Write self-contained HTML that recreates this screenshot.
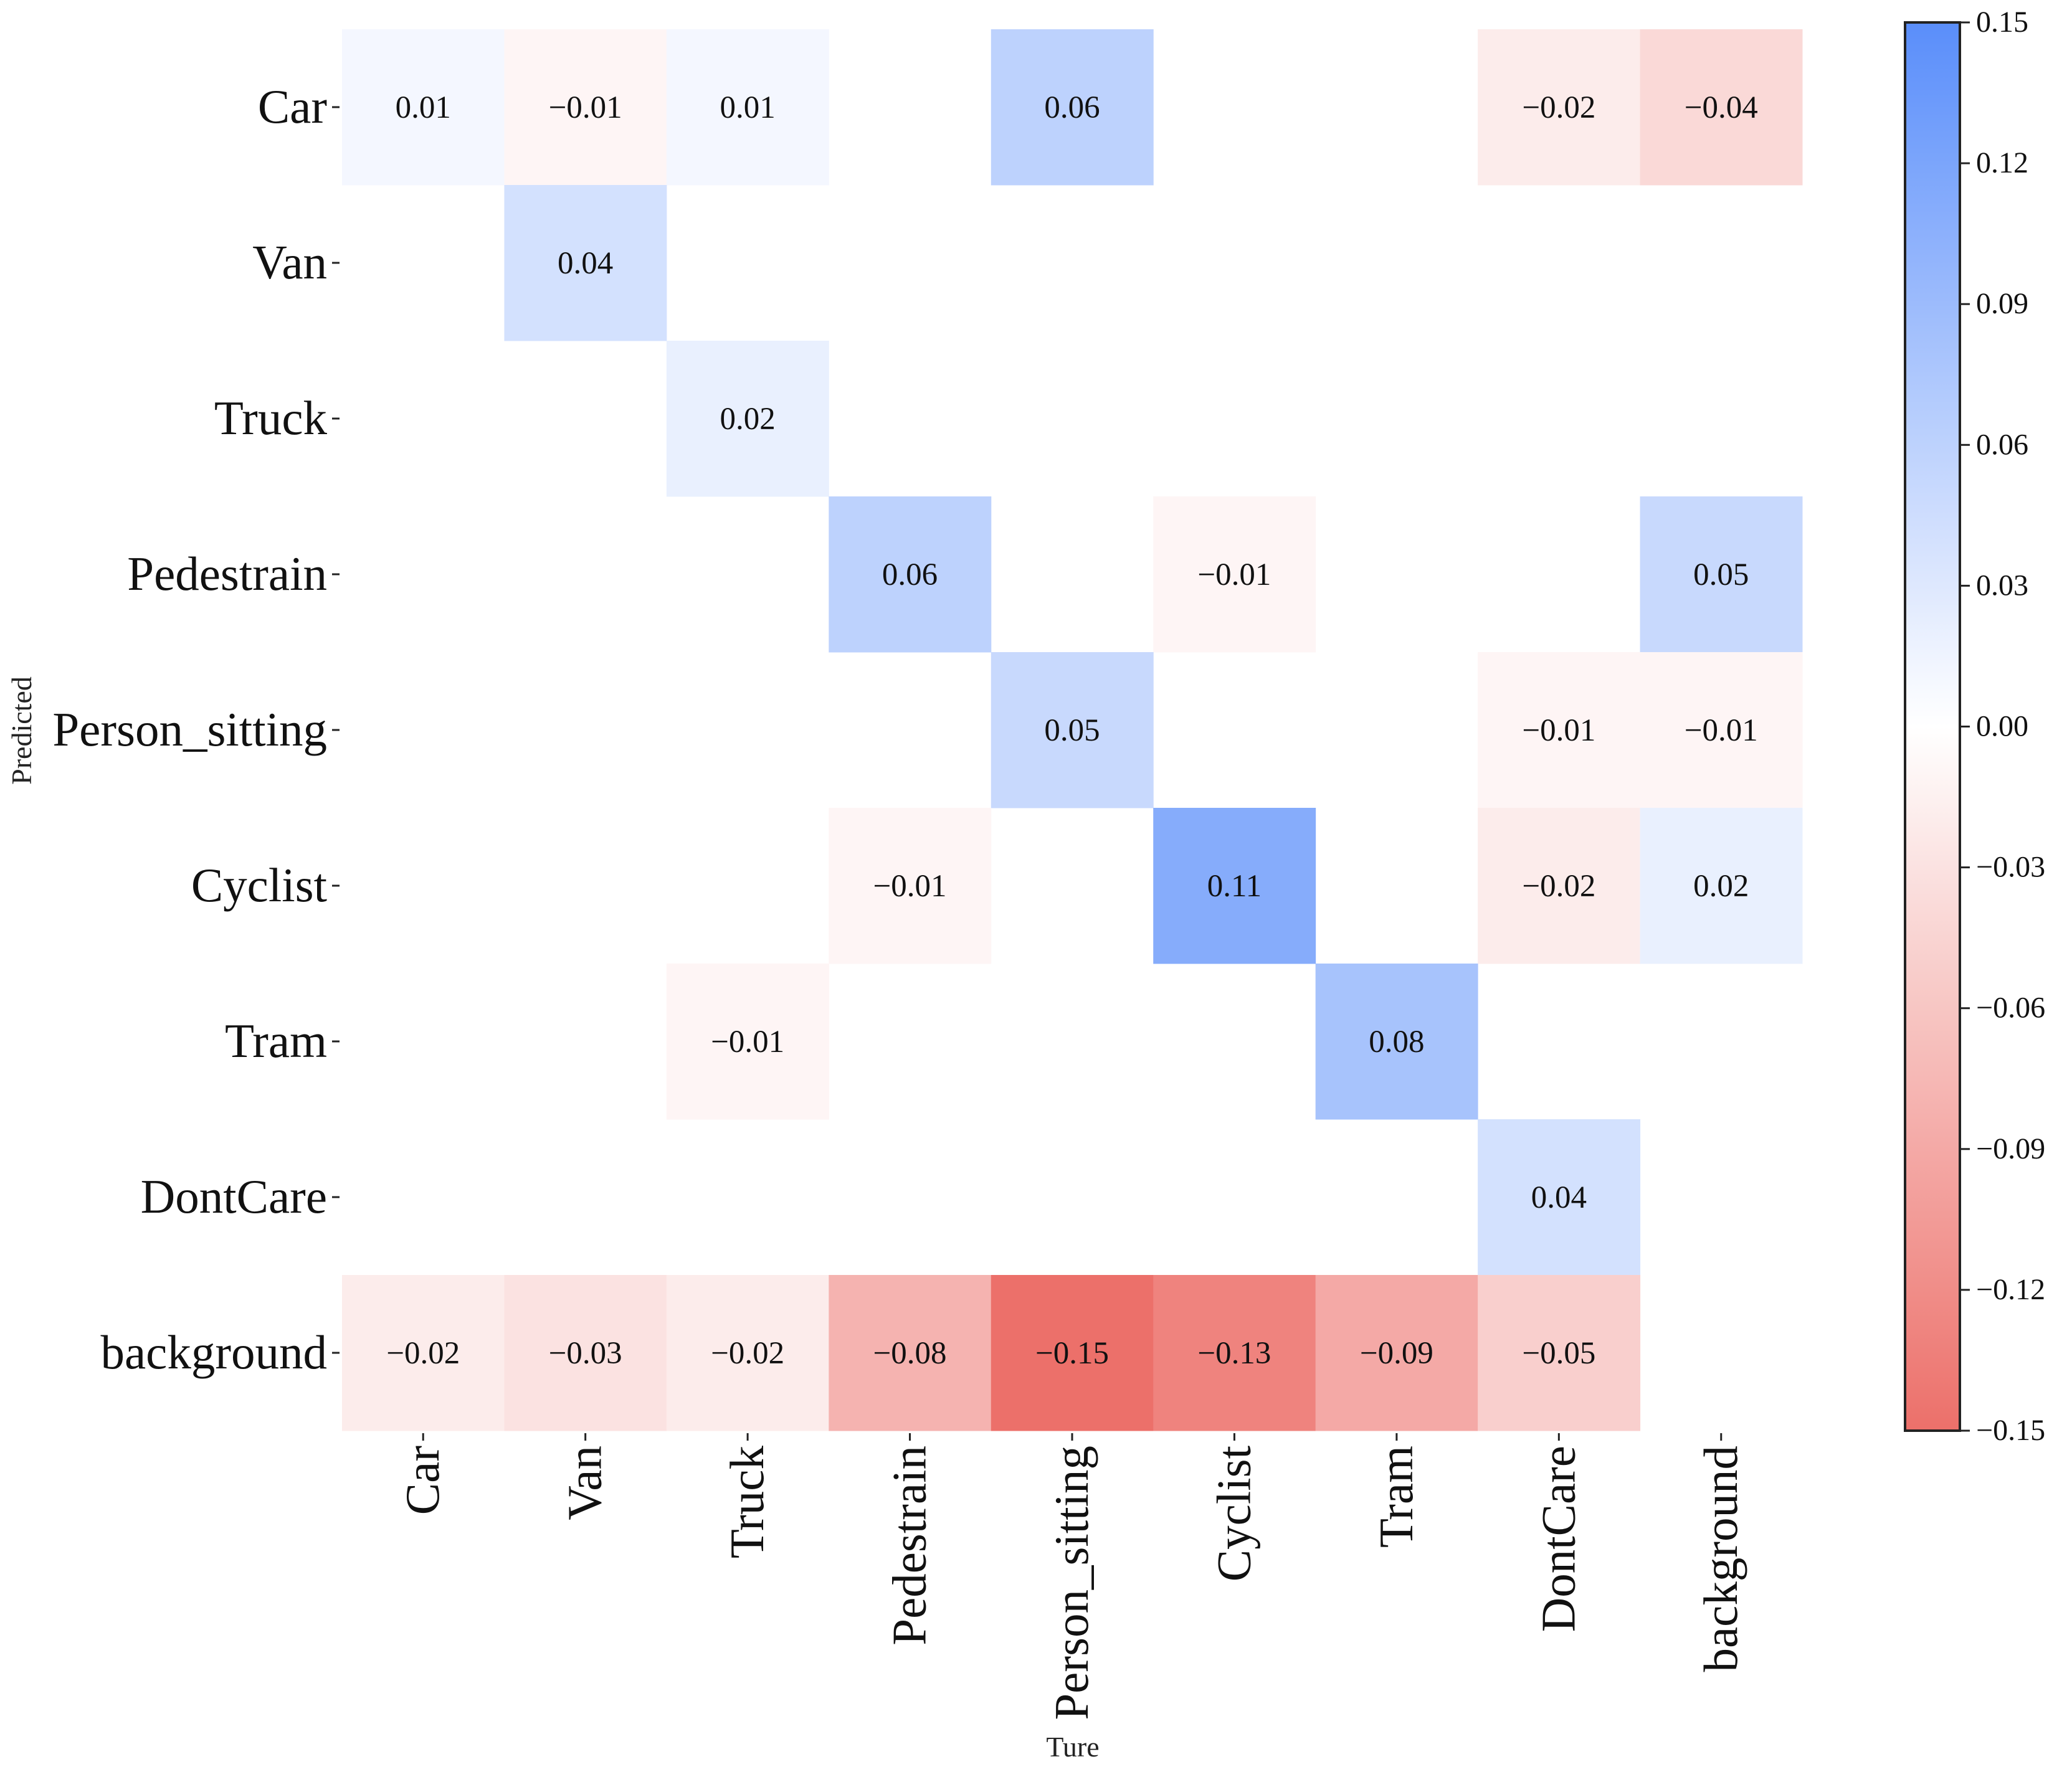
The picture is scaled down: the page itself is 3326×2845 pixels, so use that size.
<!DOCTYPE html>
<html><head><meta charset="utf-8"><style>body{margin:0;background:#fff}svg{display:block;font-family:"Liberation Serif",serif}</style></head>
<body>
<svg id="chart" width="3326" height="2845" viewBox="0 0 3326 2845" xmlns="http://www.w3.org/2000/svg">
<g id="cells"></g>
<g id="yax"></g>
<g id="xax"></g>
<g id="cbar"></g>
<text x="50" y="1173" font-size="46" text-anchor="middle" transform="rotate(-90 50 1173)" fill="#222">Predicted</text>
<text x="1722" y="2820" font-size="46" text-anchor="middle" fill="#222">Ture</text>
</svg>
<script>
const rowLabels=["Car","Van","Truck","Pedestrain","Person_sitting","Cyclist","Tram","DontCare","background"];
const colLabels=["Car","Van","Truck","Pedestrain","Person_sitting","Cyclist","Tram","DontCare","background"];
const values=[
[0.01,-0.01,0.01,0,0.06,0,0,-0.02,-0.04],
[0,0.04,0,0,0,0,0,0,0],
[0,0,0.02,0,0,0,0,0,0],
[0,0,0,0.06,0,-0.01,0,0,0.05],
[0,0,0,0,0.05,0,0,-0.01,-0.01],
[0,0,0,-0.01,0,0.11,0,-0.02,0.02],
[0,0,-0.01,0,0,0,0.08,0,0],
[0,0,0,0,0,0,0,0.04,0],
[-0.02,-0.03,-0.02,-0.08,-0.15,-0.13,-0.09,-0.05,0]];
const cbTicks=[0.15,0.12,0.09,0.06,0.03,0.00,-0.03,-0.06,-0.09,-0.12,-0.15];
const vmin=-0.15,vmax=0.15;
const L=549,R=2893,T=47,B=2297;
const cw=(R-L)/colLabels.length, ch=(B-T)/rowLabels.length;
const NS="http://www.w3.org/2000/svg";
function mk(t,a,p){const e=document.createElementNS(NS,t);for(const k in a)e.setAttribute(k,a[k]);p.appendChild(e);return e;}
function color(v){const t=Math.max(-1,Math.min(1,v/vmax));let c;
 if(t>=0)c=[255+(90-255)*t,255+(142-255)*t,255+(250-255)*t];else{const s=-t;c=[255+(236-255)*s,255+(112-255)*s,255+(106-255)*s];}
 return `rgb(${c.map(Math.round).join(",")})`;}
function fmt(v){return (v<0?"\u22120":"0")+"."+String(Math.round(Math.abs(v)*100)).padStart(2,"0");}
const cells=document.getElementById("cells");
values.forEach((row,i)=>row.forEach((v,j)=>{if(v===0)return;
 const r=mk("rect",{x:L+j*cw,y:T+i*ch,width:cw+0.5,height:ch+0.5,fill:color(v)},cells);
 
 
 const tx=mk("text",{x:L+(j+0.5)*cw,y:T+(i+0.5)*ch+17,"font-size":51,"text-anchor":"middle",fill:"#111"},cells);
 
 
 tx.textContent=fmt(v);}));
const yax=document.getElementById("yax");
rowLabels.forEach((l,i)=>{const y=T+(i+0.5)*ch;
 mk("line",{x1:L-16,x2:L-4,y1:y,y2:y,stroke:"#222","stroke-width":3},yax);
 const t=mk("text",{x:L-24,y:y+25,"font-size":77,"text-anchor":"end",fill:"#111"},yax);
 
 
 t.textContent=l;});
const xax=document.getElementById("xax");
colLabels.forEach((l,j)=>{const x=L+(j+0.5)*cw;
 mk("line",{x1:x,x2:x,y1:B+4,y2:B+16,stroke:"#222","stroke-width":3},xax);
 const t=mk("text",{x:x+25,y:B+24,"font-size":77,"text-anchor":"end",fill:"#111",transform:`rotate(-90 ${x+25} ${B+24})`},xax);
 
 
 t.textContent=l;});
const cb=document.getElementById("cbar");
const CX=3058,CW=88,CT=36,CB=2297;
const defs=mk("defs",{},cb);const g=mk("linearGradient",{id:"cg",x1:0,y1:0,x2:0,y2:1},defs);
for(let k=0;k<=20;k++){const v=vmax-(vmax-vmin)*k/20;mk("stop",{offset:k/20,"stop-color":color(v)},g);}
mk("rect",{x:CX,y:CT,width:CW,height:CB-CT,fill:"url(#cg)",stroke:"#222","stroke-width":4},cb);
cbTicks.forEach(v=>{const y=CT+(vmax-v)/(vmax-vmin)*(CB-CT);
 mk("line",{x1:CX+CW,x2:CX+CW+16,y1:y,y2:y,stroke:"#222","stroke-width":3},cb);
 const t=mk("text",{x:CX+CW+26,y:y+15,"font-size":48,fill:"#111"},cb);
 
 
 t.textContent=(v<0?"\u2212":"")+Math.abs(v).toFixed(2);});
</script>
</body></html>
